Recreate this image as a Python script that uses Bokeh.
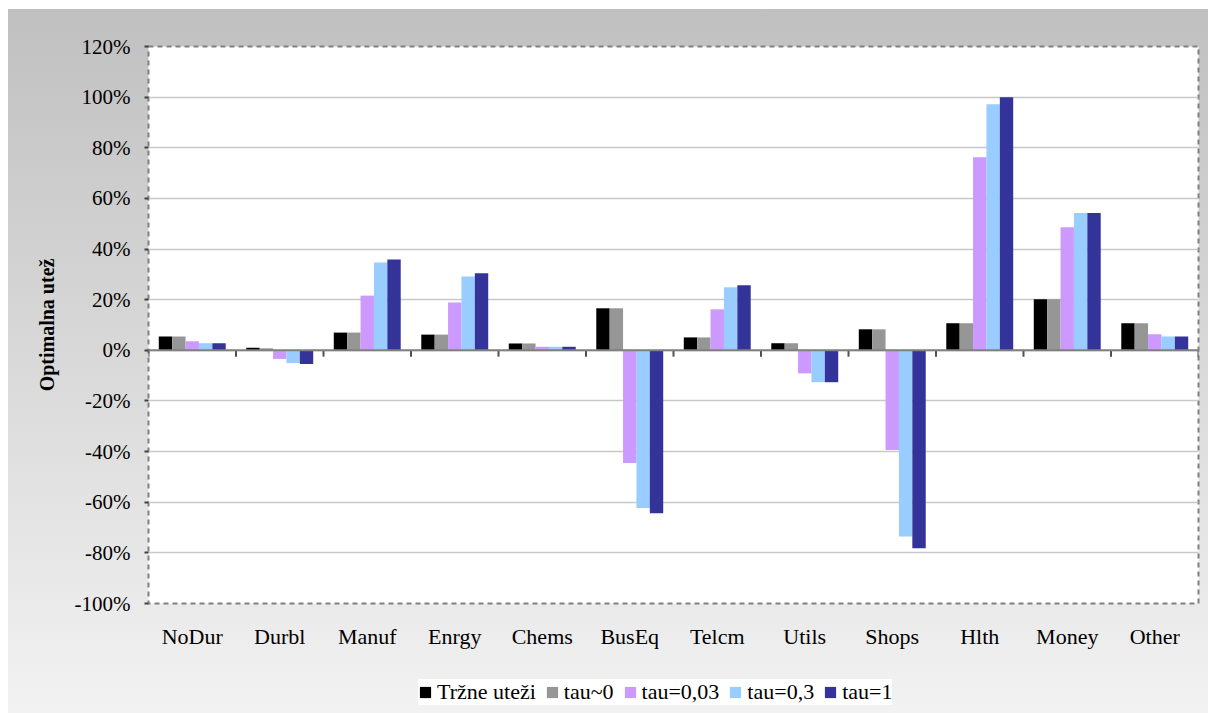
import numpy as np
from bokeh.plotting import figure
from bokeh.layouts import column
from bokeh.models import (ColumnDataSource, FixedTicker, PrintfTickFormatter, Span,
                          Legend, LegendItem)
from bokeh.embed import file_html
from bokeh.resources import INLINE

categories = ["NoDur", "Durbl", "Manuf", "Enrgy", "Chems", "BusEq",
              "Telcm", "Utils", "Shops", "Hlth", "Money", "Other"]
series_names = ["Tržne uteži", "tau~0", "tau=0,03", "tau=0,3", "tau=1"]
market = [5.5, 1.0, 7.0, 6.2, 2.7, 16.6, 5.1, 2.8, 8.3, 10.7, 20.2, 10.7]
tau_0 = [5.5, 0.8, 7.0, 6.2, 2.7, 16.6, 5.1, 2.8, 8.3, 10.7, 20.2, 10.7]
tau_003 = [3.6, -3.4, 21.6, 18.9, 1.4, -44.5, 16.2, -9.1, -39.4, 76.3, 48.6, 6.3]
tau_03 = [2.8, -5.0, 34.7, 29.2, 1.4, -62.3, 24.9, -12.6, -73.5, 97.2, 54.2, 5.5]
tau_1 = [2.8, -5.4, 35.9, 30.4, 1.4, -64.4, 25.7, -12.6, -78.2, 100.0, 54.2, 5.5]
y_ticks = [-100, -80, -60, -40, -20, 0, 20, 40, 60, 80, 100, 120]

series = [market, tau_0, tau_003, tau_03, tau_1]
colors = ["#000000", "#969696", "#CC99FF", "#99CCFF", "#333399"]

FONT = "Liberation Serif"

p = figure(width=1208, height=676, output_backend="svg", toolbar_location=None,
           x_range=(0, 12), y_range=(-100, 120),
           min_border_left=148, min_border_top=46, min_border_right=10,
           min_border_bottom=73)
p.border_fill_alpha = 0
p.background_fill_color = "white"
p.outline_line_color = "#808080"
p.outline_line_width = 2
p.outline_line_dash = "5 4"

centers = np.arange(len(categories)) + 0.5
bw = 0.153
offsets = [-2 * bw, -bw, 0, bw, 2 * bw]

for name, vals, col, off in zip(series_names, series, colors, offsets):
    src = ColumnDataSource(dict(x=centers + off, top=vals))
    p.vbar(x="x", top="top", bottom=0, width=bw, source=src,
           fill_color=col, line_color=None)

# zero line and category separators
p.add_layout(Span(location=0, dimension="width", line_color="#808080", line_width=2))
bounds = np.arange(len(categories) + 1)
p.segment(x0=bounds, y0=np.zeros(len(bounds)), x1=bounds, y1=np.full(len(bounds), -2.5),
          line_color="#505050", line_width=2)

# y axis
p.yaxis.ticker = FixedTicker(ticks=y_ticks)
p.yaxis.formatter = PrintfTickFormatter(format="%d%%")
p.yaxis.axis_line_color = None
p.yaxis.major_tick_line_color = "#404040"
p.yaxis.major_tick_line_width = 2
p.yaxis.major_tick_out = 4
p.yaxis.major_tick_in = 0
p.yaxis.minor_tick_line_color = None
p.yaxis.major_label_standoff = 14
p.yaxis.major_label_text_font = FONT
p.yaxis.major_label_text_font_size = "21px"
p.yaxis.major_label_text_color = "black"
p.yaxis.axis_label = "Optimalna utež"
p.yaxis.axis_label_text_font = FONT
p.yaxis.axis_label_text_font_style = "bold"
p.yaxis.axis_label_text_font_size = "20px"
p.yaxis.axis_label_text_color = "black"
p.yaxis.axis_label_standoff = 14

# x axis
p.xaxis.ticker = FixedTicker(ticks=list(centers))
p.xaxis.major_label_overrides = {float(c): cat for c, cat in zip(centers, categories)}
p.xaxis.axis_line_color = None
p.xaxis.major_tick_line_color = None
p.xaxis.minor_tick_line_color = None
p.xaxis.major_label_standoff = 14
p.xaxis.major_label_text_font = FONT
p.xaxis.major_label_text_font_size = "22px"
p.xaxis.major_label_text_color = "black"

p.xgrid.grid_line_color = None
p.ygrid.ticker = FixedTicker(ticks=y_ticks)
p.ygrid.grid_line_color = "#C8C8C8"
p.ygrid.grid_line_width = 1.5

# legend strip below the chart (its frame is aligned with the chart's frame)
q = figure(width=1208, height=37, output_backend="svg", toolbar_location=None,
           x_range=(0, 12), y_range=(-100, 120), x_axis_type=None, y_axis_type=None,
           min_border=0)
q.border_fill_alpha = 0
q.background_fill_alpha = 0
q.outline_line_color = None
items = []
for name, vals, col, off in zip(series_names, series, colors, offsets):
    src = ColumnDataSource(dict(x=centers + off, top=vals))
    r = q.vbar(x="x", top="top", bottom=0, width=bw, source=src,
               fill_color=col, line_color=None, visible=False)
    items.append(LegendItem(label=name, renderers=[r], index=0))

legend = Legend(items=items, orientation="horizontal", location=(270, 8),
                background_fill_color="white", background_fill_alpha=1,
                border_line_color=None, padding=10, margin=0, spacing=9,
                glyph_width=14, glyph_height=14, label_standoff=5,
                label_text_font="Times", label_text_font_size="22px",
                label_text_color="black")
q.add_layout(legend, "center")

layout = column(p, q, spacing=0)
layout.styles = {"background": "linear-gradient(to right, #ffffff 8px, transparent 8px), "
                               "linear-gradient(to bottom, #ffffff 9px, #C0C0C0 9px, #F2F2F2 100%)"}

open("out.html", "w").write(file_html(layout, INLINE))
